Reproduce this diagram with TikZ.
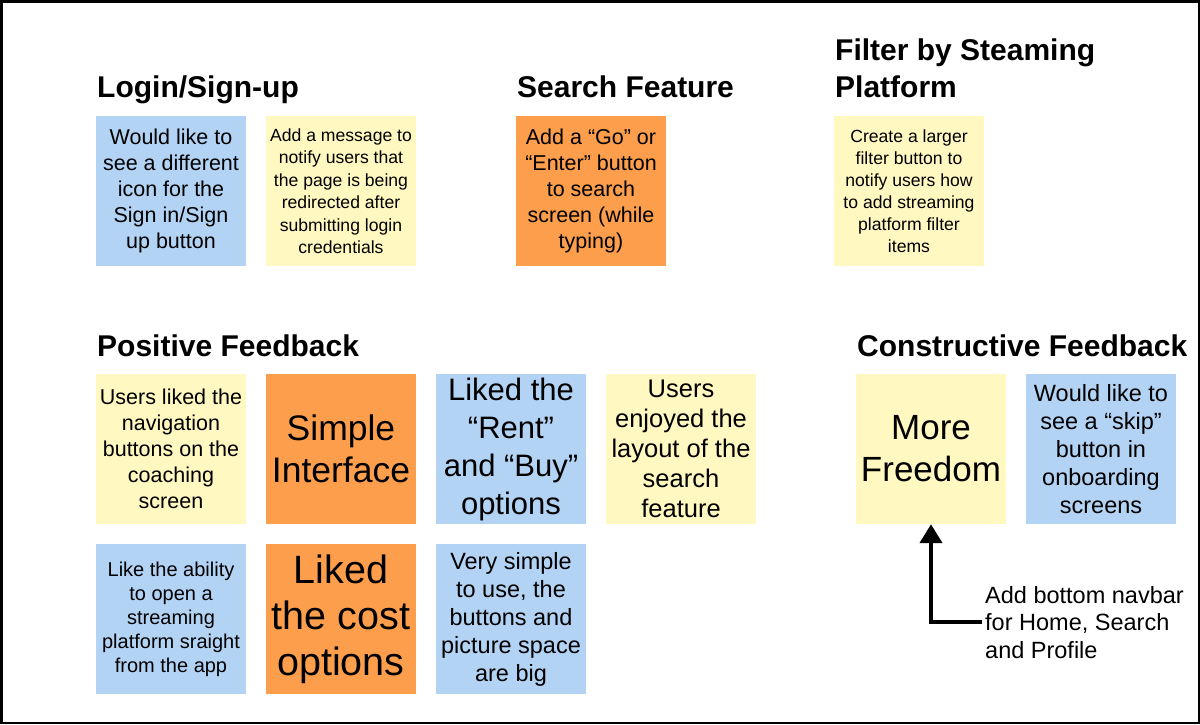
\documentclass[tikz,border=0pt]{standalone}
\usepackage{fontspec}
\setmainfont{Liberation Sans}
\usetikzlibrary{arrows.meta}
\definecolor{cblue}{HTML}{B3D3F5}
\definecolor{cyellow}{HTML}{FFF8C0}
\definecolor{corange}{HTML}{FD9E4C}
\tikzset{
  card/.style={minimum width=150pt, minimum height=150pt, inner sep=0pt, align=center, text=black},
  bluecard/.style={card, fill=cblue},
  yellowcard/.style={card, fill=cyellow},
  orangecard/.style={card, fill=corange},
  heading/.style={anchor=base west, inner sep=0pt, font=\fontsize{30}{37}\selectfont\bfseries, align=left},
}
\newcommand{\fsz}[2]{\fontsize{#1}{#2}\selectfont}
\begin{document}
\begin{tikzpicture}[x=1pt,y=-1pt]
\useasboundingbox (0,0) rectangle (1200,724);
\draw[line width=2.5pt] (1.25,1.25) rectangle (1198.75,722.75);

% headings
\node[heading] (hlogin) at (97,97) {Login/Sign-up};
\node[heading] (hsearch) at (517,97) {Search Feature};
\node[heading] (hfilter) at (835,97) {Filter by Steaming\\Platform};
\node[heading] (hpos) at (97,356) {Positive Feedback};
\node[heading] (hcon) at (857,356) {Constructive Feedback};

% row 0
\node[bluecard, font=\fsz{21.5}{26}] (icon) at (171,191) {Would like to\\see a different\\icon for the\\Sign in/Sign\\up button};
\node[yellowcard, font=\fsz{17.6}{22.5}] (msg) at (341,191) {Add a message to\\notify users that\\the page is being\\redirected after\\submitting login\\credentials};
\node[orangecard, font=\fsz{21.5}{26}] (go) at (591,191) {Add a “Go” or\\“Enter” button\\to search\\screen (while\\typing)};
\node[yellowcard, font=\fsz{17.6}{22}] (filt) at (909,191) {Create a larger\\filter button to\\notify users how\\to add streaming\\platform filter\\items};

% row 1
\node[yellowcard, font=\fsz{21.5}{26}] (nav1) at (171,449) {Users liked the\\navigation\\buttons on the\\coaching\\screen};
\node[orangecard, font=\fsz{35.5}{42}] (simple) at (341,449) {Simple\\Interface};
\node[bluecard, font=\fsz{31}{38}] (rent) at (511,449) {Liked the\\“Rent”\\and “Buy”\\options};
\node[yellowcard, font=\fsz{25.5}{30}] (layout) at (681,449) {Users\\enjoyed the\\layout of the\\search\\feature};
\node[yellowcard, font=\fsz{35}{42}] (free) at (931,449) {More\\Freedom};
\node[bluecard, font=\fsz{23.5}{28}] (skip) at (1101,449) {Would like to\\see a “skip”\\button in\\onboarding\\screens};

% row 2
\node[bluecard, font=\fsz{20}{24}] (open) at (171,619) {Like the ability\\to open a\\streaming\\platform sraight\\from the app};
\node[orangecard, font=\fsz{39.5}{46}] (cost) at (341,619) {Liked\\the cost\\options};
\node[bluecard, font=\fsz{23.5}{28}] (easy) at (511,619) {Very simple\\to use, the\\buttons and\\picture space\\are big};

% navbar note
\node[anchor=base west, inner sep=0pt, align=left, font=\fsz{23.5}{27.5}] (navnote) at (985,658) {Add bottom navbar\\for Home, Search\\and Profile};

\draw[line width=4.3pt, -{Triangle[width=22pt,length=19pt]}] ([xshift=-3pt]navnote.west) -| (free.south);
\end{tikzpicture}
\end{document}
